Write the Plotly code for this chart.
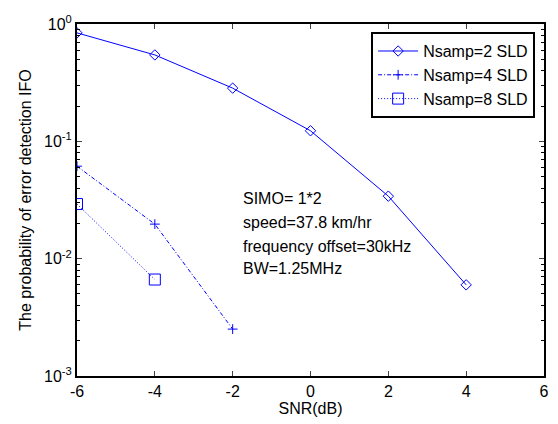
import plotly.graph_objects as go

snr2 = [-6, -4, -2, 0, 2, 4]
p2 = [0.84, 0.545, 0.284, 0.123, 0.0341, 0.00598]
snr4 = [-6, -4, -2]
p4 = [0.0614, 0.0197, 0.00251]
snr8 = [-6, -4]
p8 = [0.0292, 0.00664]

names = ["Nsamp=2 SLD", "Nsamp=4 SLD", "Nsamp=8 SLD"]
ytickvals = [1e-3, 1e-2, 1e-1, 1]
yticktext = ["10<sup>-3</sup>", "10<sup>-2</sup>", "10<sup>-1</sup>", "10<sup>0</sup>"]
xtickvals = [-6, -4, -2, 0, 2, 4, 6]
xticktext = ["-6", "-4", "-2", "0", "2", "4", "6"]
notes = ["SIMO= 1*2", "speed=37.8 km/hr", "frequency offset=30kHz", "BW=1.25MHz"]

blue = "#0000FF"
FONT = "Liberation Sans, Arial, sans-serif"

fig = go.Figure()
fig.add_trace(go.Scatter(x=snr2, y=p2, name=names[0], mode="lines+markers",
                         line=dict(color=blue, width=1),
                         marker=dict(symbol="diamond-open", size=8, color=blue, line=dict(width=1, color=blue))))
fig.add_trace(go.Scatter(x=snr4, y=p4, name=names[1], mode="lines+markers",
                         line=dict(color=blue, width=1, dash="4px,2px,1px,2px"),
                         marker=dict(symbol="cross-thin-open", size=7, color=blue, line=dict(width=1, color=blue))))
fig.add_trace(go.Scatter(x=snr8, y=p8, name=names[2], mode="lines+markers",
                         line=dict(color=blue, width=1, dash="1px,2px"),
                         marker=dict(symbol="square-open", size=11, color=blue, line=dict(width=1, color=blue))))

minor_vals = [m * 10.0 ** e for e in (-3, -2, -1) for m in range(2, 10)]

fig.update_layout(
    width=558, height=424,
    margin=dict(l=77, r=9, t=24, b=47),
    paper_bgcolor="white", plot_bgcolor="white",
    font=dict(family=FONT, size=16, color="black"),
    showlegend=True,
    legend=dict(x=0.981, y=0.977, xanchor="right", yanchor="top",
                bordercolor="black", borderwidth=2, bgcolor="white",
                font=dict(size=16), tracegroupgap=0, itemwidth=40),
    xaxis=dict(range=[-6, 6], tickvals=xtickvals, ticktext=xticktext, ticks="inside", ticklen=5,
               showline=True, linecolor="black", linewidth=2, mirror="allticks",
               showgrid=False, zeroline=False, tickfont=dict(size=16),
               title=dict(text="SNR(dB)", font=dict(size=16), standoff=4)),
    yaxis=dict(type="log", range=[-3, 0], tickvals=ytickvals, ticktext=yticktext,
               ticks="inside", ticklen=5,
               showline=True, linecolor="black", linewidth=2, mirror="allticks",
               showgrid=False, zeroline=False, tickfont=dict(size=16),
               minor=dict(tickvals=minor_vals, ticks="inside", ticklen=3, tickcolor="black", showgrid=False),
               title=dict(text="The probability of error detection IFO", font=dict(size=16), standoff=8)),
)

ys = [0.5039, 0.4359, 0.3689, 0.3048]
for t, yy in zip(notes, ys):
    fig.add_annotation(text=t, xref="paper", yref="paper", x=0.3517, y=yy,
                       xanchor="left", yanchor="middle", showarrow=False,
                       font=dict(size=16, family=FONT, color="black"))

fig.write_html("out.html")
